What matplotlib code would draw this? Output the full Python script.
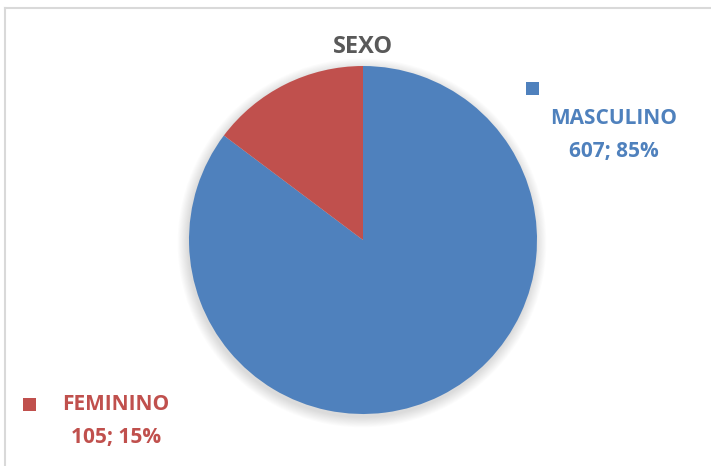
import matplotlib
matplotlib.use("Agg")
import matplotlib.pyplot as plt
from matplotlib.patches import Circle, Rectangle
from matplotlib.lines import Line2D

categories = ["MASCULINO", "FEMININO"]
values = [607, 105]
percents = [85, 15]
colors = ["#4F81BD", "#C0504D"]
title = "SEXO"

W, H = 711, 466
fig = plt.figure(figsize=(W / 100, H / 100), dpi=100)
ax = fig.add_axes([0, 0, 1, 1])

cx, cy, r = 363, H - 240, 174

# soft shadow
for i in range(12):
    ax.add_patch(Circle((cx - 1, cy - 3), r + 0.5 + i * 0.9, color="black",
                        alpha=0.012, lw=0, zorder=1))

ax.pie(values, colors=colors, startangle=90, counterclock=False,
       center=(cx, cy), radius=r, frame=True,
       wedgeprops=dict(linewidth=0, zorder=2))
ax.set_xlim(0, W)
ax.set_ylim(0, H)
ax.set_aspect("auto")
ax.axis("off")

font = ["Open Sans", "DejaVu Sans"]
ax.text(363, H - 47, title, ha="center", va="center", fontsize=17,
        fontweight="bold", color="#595959", family=font)

label_pos = [(614, 118, 152, 532, 88), (116, 404, 437, 29, 404)]
for (name, v, p, c, (lx, ly1, ly2, mx, my)) in zip(categories, values, percents, colors, label_pos):
    ax.text(lx, H - ly1, name, ha="center", va="center", fontsize=15,
            fontweight="bold", color=c, family=font)
    ax.text(lx, H - ly2, f"{v}; {p}%", ha="center", va="center", fontsize=15,
            fontweight="bold", color=c, family=font)
    ax.add_patch(Rectangle((mx - 6.5, H - my - 6.5), 13, 13, color=c, lw=0))

# chart border (partial, as in reference crop)
fig.add_artist(Line2D([5 / W, 1], [1 - 8 / H, 1 - 8 / H], color="#d9d9d9", lw=1.5))
fig.add_artist(Line2D([5 / W, 5 / W], [0, 1 - 8 / H], color="#d9d9d9", lw=1.5))

fig.savefig("out.png", dpi=100)
